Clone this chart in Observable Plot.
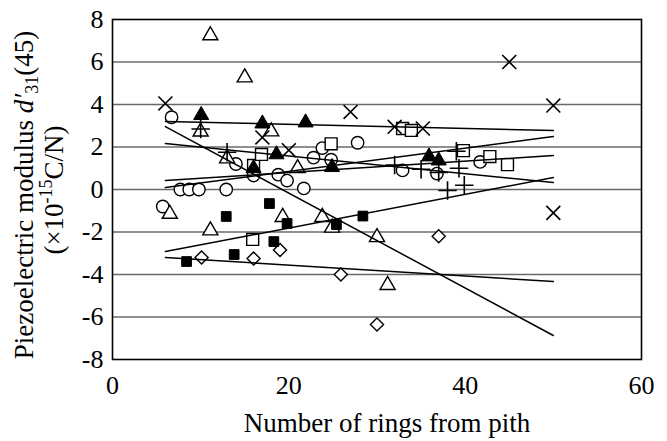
<!DOCTYPE html>
<html>
<head>
<meta charset="utf-8">
<script src="https://cdn.jsdelivr.net/npm/d3@7"></script>
<script src="https://cdn.jsdelivr.net/npm/@observablehq/plot@0.6"></script>
<style>
  html, body { margin: 0; padding: 0; background: #fff; }
  #chart { width: 667px; height: 441px; }
  #chart svg { font-family: "Liberation Serif", "Times New Roman", serif; }
</style>
</head>
<body>
<div id="chart"></div>
<script>
// Measured piezoelectric modulus d'31(45) against ring number, one array per specimen
const timesPts    = [[6,4.05],[17,2.45],[20,1.85],[27,3.65],[32,2.95],[35.2,2.87],[45,6.0],[50,3.95],[50,-1.1]];
const circlePts   = [[6.7,3.4],[5.7,-0.8],[7.7,0],[8.7,0],[9.8,0],[12.9,0],[14,1.2],[16,0.66],[18.8,0.7],[19.8,0.42],
                     [21.7,0.05],[22.8,1.5],[23.8,1.95],[24.8,1.4],[27.8,2.2],[32.9,0.9],[36.8,0.75],[41.7,1.3]];
const trianglePts = [[11.1,7.25],[15,5.27],[10,2.72],[13,1.46],[18,2.73],[21,1.0],[6.5,-1.15],[11.1,-1.93],
                     [19.3,-1.3],[23.8,-1.3],[24.9,-1.8],[30,-2.25],[31.2,-4.5]];
const triFillPts  = [[10.06,3.5],[17,3.1],[21.9,3.15],[16,1.0],[18.6,1.65],[24.9,1.05],[35.9,1.55],[37,1.36]];
const squarePts   = [[16,1.13],[16.9,1.65],[15.9,-2.35],[24.8,2.15],[32.9,2.87],[33.9,2.78],[39.8,1.83],[42.8,1.55],[44.8,1.17]];
const sqFillPts   = [[8.4,-3.39],[12.9,-1.27],[13.8,-3.06],[17.8,-0.66],[18.3,-2.45],[19.8,-1.6],[25.4,-1.65],[28.4,-1.25]];
const diamondPts  = [[10.1,-3.2],[16,-3.25],[19,-2.85],[25.9,-4.0],[30,-6.35],[37,-2.2]];
const plusPts     = [[10,2.85],[13,1.75],[32,1.15],[35,0.95],[37,0.8],[39,1.8],[39.3,1.0],[38,-0.05],[39.9,0.2]];

// Linear trend lines: value at the first and last ring of the fitted range
const fitRings    = [6, 50];
const fitTimes    = [3.2, 2.78];
const fitTriangle = [2.96, -6.87];
const fitCircle   = [0.09, 2.49];
const fitSquare   = [0.42, 1.6];
const fitTriFill  = [2.16, 0.33];
const fitSqFill   = [-2.92, 0.56];
const fitDiamond  = [-3.2, -4.33];

// Axis ticks
const xTicks = [0, 20, 40, 60];
const yTicks = [-8, -6, -4, -2, 0, 2, 4, 6, 8];
const gridY  = [-6, -4, -2, 0, 2, 4, 6];

const toRows = pts => pts.map(([ring, d]) => ({ring, d}));
const fitRows = ys => fitRings.map((ring, i) => ({ring, d: ys[i]}));

const fits = [fitTimes, fitTriangle, fitCircle, fitSquare, fitTriFill, fitSqFill, fitDiamond];

const openDot = (pts, symbol, r) =>
  Plot.dot(toRows(pts), {x: "ring", y: "d", symbol: () => symbol, r, fill: "white", stroke: "black", strokeWidth: 1.4});
const solidDot = (pts, symbol, r) =>
  Plot.dot(toRows(pts), {x: "ring", y: "d", symbol: () => symbol, r, fill: "black", stroke: "black", strokeWidth: 1});
const strokeDot = (pts, symbol, r) =>
  Plot.dot(toRows(pts), {x: "ring", y: "d", symbol: () => symbol, r, stroke: "black", strokeWidth: 1.6});

const chart = Plot.plot({
  width: 667,
  height: 441,
  marginLeft: 112,
  marginRight: 26,
  marginTop: 19,
  marginBottom: 82,
  style: {fontSize: "26px", fontFamily: "'Liberation Serif', 'Times New Roman', serif", background: "white", color: "black"},
  x: {domain: [0, 60], ticks: xTicks, label: null},
  y: {domain: [-8, 8], ticks: yTicks, label: null},
  marks: [
    Plot.ruleY(gridY, {stroke: "#6a6a6a", strokeWidth: 1.3}),
    openDot(circlePts, "circle", 6.2),
    openDot(trianglePts, "triangle2", 7.2),
    openDot(squarePts, "square2", 7.6),
    openDot(diamondPts, "diamond2", 5.9),
    solidDot(triFillPts, "triangle2", 7.2),
    solidDot(sqFillPts, "square2", 6.2),
    strokeDot(timesPts, "times", 6.4),
    strokeDot(plusPts, "plus", 6),
    ...fits.map(ys => Plot.line(fitRows(ys), {x: "ring", y: "d", stroke: "black", strokeWidth: 1.5})),
    Plot.frame({stroke: "black", strokeWidth: 1.6}),
    Plot.axisX({ticks: xTicks, tickSize: 0, tickPadding: 16, label: null, fontSize: 26, tickFormat: d => String(d)}),
    Plot.axisY({ticks: yTicks, tickSize: 0, tickPadding: 9, label: null, fontSize: 26, tickFormat: d => String(d)})
  ]
});

document.getElementById("chart").appendChild(chart);

// Axis titles with italic, subscript and superscript parts
const svg = d3.select(chart);
svg.append("text")
  .attr("x", 387).attr("y", 432)
  .attr("text-anchor", "middle")
  .attr("font-size", 27).attr("fill", "black")
  .text("Number of rings from pith");

const ylab1 = svg.append("text")
  .attr("transform", "translate(33,195) rotate(-90)")
  .attr("text-anchor", "middle").attr("font-size", 27).attr("fill", "black");
ylab1.append("tspan").text("Piezoelectric modulus ");
ylab1.append("tspan").attr("font-style", "italic").text("d\u2032");
ylab1.append("tspan").attr("font-size", 18).attr("dy", 5).text("31");
ylab1.append("tspan").attr("dy", -5).text("(45)");

const ylab2 = svg.append("text")
  .attr("transform", "translate(63,190) rotate(-90)")
  .attr("text-anchor", "middle").attr("font-size", 27).attr("fill", "black");
ylab2.append("tspan").text("(\u00d710");
ylab2.append("tspan").attr("font-size", 18).attr("dy", -11).text("-15");
ylab2.append("tspan").attr("dy", 11).text("C/N)");
</script>
</body>
</html>
